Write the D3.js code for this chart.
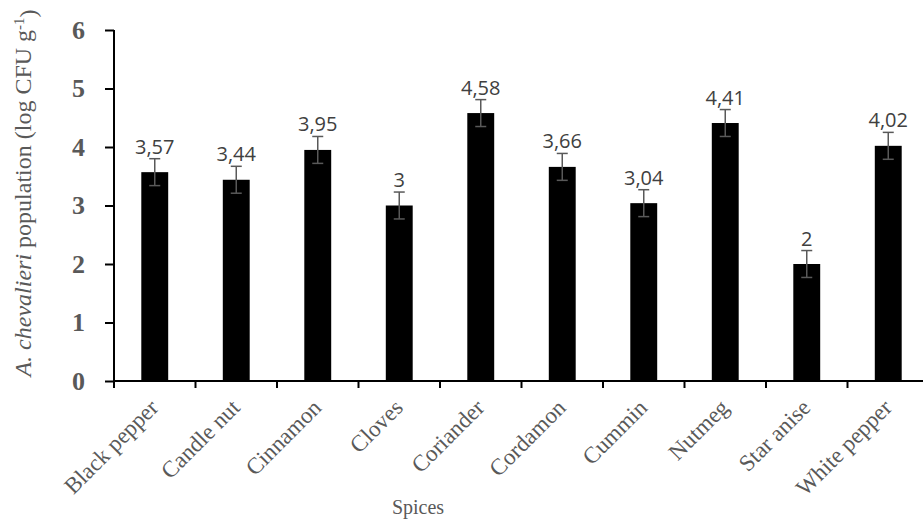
<!DOCTYPE html>
<html>
<head>
<meta charset="utf-8">
<script src="https://cdn.jsdelivr.net/npm/d3@7"></script>
<style>
  body { margin: 0; background: #fff; }
  svg { display: block; }
</style>
</head>
<body>
<script>
var w = 923;
var h = 520;

var spices = ["Black pepper", "Candle nut", "Cinnamon", "Cloves", "Coriander",
    "Cordamon", "Cummin", "Nutmeg", "Star anise", "White pepper"];
var population = [3.57, 3.44, 3.95, 3.00, 4.58, 3.66, 3.04, 4.41, 2.00, 4.02];
var labels = ["3,57", "3,44", "3,95", "3", "4,58", "3,66", "3,04", "4,41", "2", "4,02"];
var errors = [0.23, 0.23, 0.23, 0.23, 0.23, 0.23, 0.23, 0.23, 0.23, 0.23];
var yTicks = [0, 1, 2, 3, 4, 5, 6];

var svg = d3.select("body")
            .append("svg")
            .attr("width", w)
            .attr("height", h);

var x = d3.scaleBand()
    .domain(spices)
    .range([114, 929])
    .padding(0);

var y = d3.scaleLinear()
    .domain([0, 6])
    .range([381, 30]);

var barW = x.bandwidth() * 0.33;

// bars
svg.selectAll("rect.bar")
    .data(population)
    .enter()
    .append("rect")
    .attr("class", "bar")
    .attr("x", function(d, i){
        return x(spices[i]) + (x.bandwidth() - barW) / 2;
    })
    .attr("y", function(d){
        return y(d);
    })
    .attr("width", barW)
    .attr("height", function(d){
        return y(0) - y(d);
    })
    .attr("fill", "#000");

// error bars
var err = svg.selectAll("g.err")
    .data(population)
    .enter()
    .append("g")
    .attr("class", "err")
    .attr("stroke", "#595959")
    .attr("stroke-width", 1.5);

err.append("line")
    .attr("x1", function(d, i){ return x(spices[i]) + x.bandwidth() / 2; })
    .attr("x2", function(d, i){ return x(spices[i]) + x.bandwidth() / 2; })
    .attr("y1", function(d, i){ return y(d + errors[i]); })
    .attr("y2", function(d, i){ return y(d - errors[i]); });
err.append("line")
    .attr("x1", function(d, i){ return x(spices[i]) + x.bandwidth() / 2 - 5.5; })
    .attr("x2", function(d, i){ return x(spices[i]) + x.bandwidth() / 2 + 5.5; })
    .attr("y1", function(d, i){ return y(d + errors[i]); })
    .attr("y2", function(d, i){ return y(d + errors[i]); });
err.append("line")
    .attr("x1", function(d, i){ return x(spices[i]) + x.bandwidth() / 2 - 5.5; })
    .attr("x2", function(d, i){ return x(spices[i]) + x.bandwidth() / 2 + 5.5; })
    .attr("y1", function(d, i){ return y(d - errors[i]); })
    .attr("y2", function(d, i){ return y(d - errors[i]); });

// value labels
svg.selectAll("text.val")
    .data(population)
    .enter()
    .append("text")
    .attr("class", "val")
    .text(function(d, i){ return labels[i]; })
    .attr("x", function(d, i){ return x(spices[i]) + x.bandwidth() / 2; })
    .attr("y", function(d, i){ return y(d + errors[i]) - 5; })
    .attr("font-family", "Open Sans")
    .attr("font-size", "20px")
    .attr("fill", "#404040")
    .attr("text-anchor", "middle");

// y axis
var yAxis = svg.append("g")
    .attr("transform", "translate(114,0)")
    .call(d3.axisLeft(y).tickValues(yTicks).tickFormat(d3.format("d"))
        .tickSize(9).tickPadding(20));
yAxis.select(".domain").attr("stroke", "#000").attr("stroke-width", 2)
    .attr("d", "M0," + y(6) + "V" + y(0));
yAxis.selectAll(".tick line").attr("stroke", "#000").attr("stroke-width", 2);
yAxis.selectAll(".tick text")
    .attr("font-family", "Liberation Serif")
    .attr("font-weight", "bold")
    .attr("font-size", "26px")
    .attr("fill", "#595959");

// x axis line + ticks at category boundaries
var xAxis = svg.append("g");
xAxis.append("line")
    .attr("x1", 114).attr("x2", 929)
    .attr("y1", y(0)).attr("y2", y(0))
    .attr("stroke", "#000").attr("stroke-width", 2);
xAxis.selectAll("line.tk")
    .data(spices)
    .enter()
    .append("line")
    .attr("class", "tk")
    .attr("x1", function(d){ return x(d); })
    .attr("x2", function(d){ return x(d); })
    .attr("y1", y(0))
    .attr("y2", y(0) + 7)
    .attr("stroke", "#000").attr("stroke-width", 2);

xAxis.selectAll("text.cat")
    .data(spices)
    .enter()
    .append("text")
    .attr("class", "cat")
    .text(function(d){ return d; })
    .attr("transform", function(d){
        return "translate(" + (x(d) + x.bandwidth() / 2 + 5) + "," + (y(0) + 28) + ") rotate(-45)";
    })
    .attr("font-family", "Liberation Serif")
    .attr("font-size", "23px")
    .attr("fill", "#595959")
    .attr("text-anchor", "end");

// axis titles
svg.append("text")
    .text("Spices")
    .attr("x", 418)
    .attr("y", 514)
    .attr("font-family", "Liberation Serif")
    .attr("font-size", "20px")
    .attr("fill", "#595959")
    .attr("text-anchor", "middle");

var yt = svg.append("text")
    .attr("transform", "translate(31,193) rotate(-90)")
    .attr("font-family", "Liberation Serif")
    .attr("font-size", "24px")
    .attr("fill", "#595959")
    .attr("text-anchor", "middle");
yt.append("tspan").attr("font-style", "italic").text("A. chevalieri");
yt.append("tspan").text(" population (log CFU g");
yt.append("tspan").attr("dy", "-0.5em").attr("font-size", "15px").text("-1");
yt.append("tspan").attr("dy", "0.5em").text(")");
</script>
</body>
</html>
